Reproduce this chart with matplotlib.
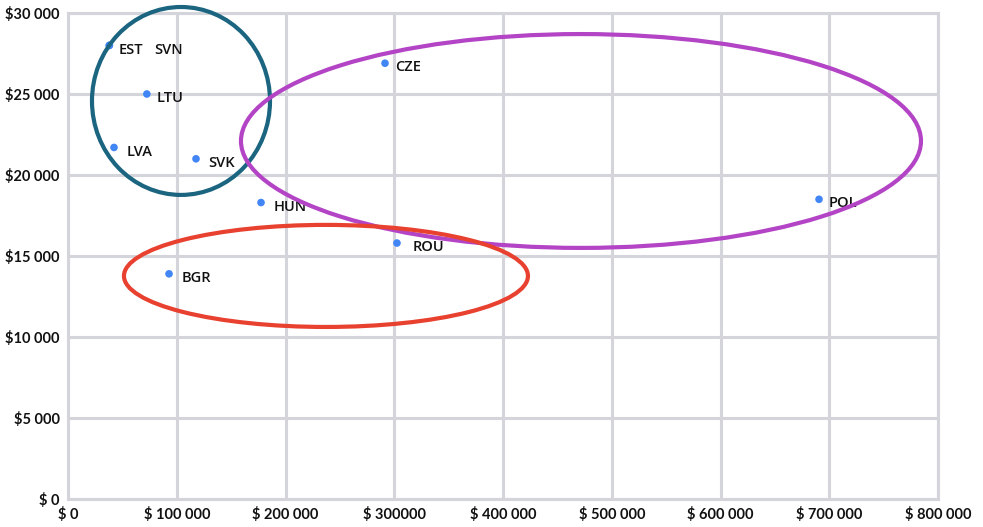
import matplotlib
matplotlib.use("Agg")
import matplotlib.pyplot as plt
from matplotlib.patches import Ellipse
from matplotlib.ticker import FixedLocator, FixedFormatter

# ---- data ----
countries = ["EST", "SVN", "LTU", "LVA", "SVK", "HUN", "ROU", "BGR", "CZE", "POL"]
gdp_total = [38000, 38000, 72500, 42300, 117700, 177500, 302500, 92900, 291500, 690600]
gdp_per_capita = [28000, 28000, 25000, 21700, 21000, 18300, 15800, 13900, 26900, 18500]
label_dx = [7, 32, 7, 9, 9, 9, 11, 9, 7, 7]   # label offsets in points

x_ticks = [0, 100000, 200000, 300000, 400000, 500000, 600000, 700000, 800000]
x_tick_labels = ["$ 0", "$ 100 000", "$ 200 000", "$ 300000", "$ 400 000",
                 "$ 500 000", "$ 600 000", "$ 700 000", "$ 800 000"]
y_ticks = [0, 5000, 10000, 15000, 20000, 25000, 30000]
y_tick_labels = ["$ 0", "$5 000", "$10 000", "$15 000", "$20 000", "$25 000", "$30 000"]

# group highlight ellipses: (center x, center y, width, height, colour)
groups = [
    (103900, 24570, 163700, 11600, "#1b6580"),
    (471700, 22100, 625300, 13200, "#b444c6"),
    (237200, 13770, 371500, 6300, "#e8412f"),
]

grid_col = "#d4d4db"

fig = plt.figure(figsize=(9.83, 5.27), dpi=100)
ax = fig.add_axes([68/983, 28/527, 870/983, 486/527])
ax.set_xlim(0, 800000)
ax.set_ylim(0, 30000)

ax.xaxis.set_major_locator(FixedLocator(x_ticks))
ax.xaxis.set_major_formatter(FixedFormatter(x_tick_labels))
ax.yaxis.set_major_locator(FixedLocator(y_ticks))
ax.yaxis.set_major_formatter(FixedFormatter(y_tick_labels))
ax.grid(True, color=grid_col, linewidth=2.2, zorder=0)
ax.set_axisbelow(True)
for s in ax.spines.values():
    s.set_color(grid_col)
    s.set_linewidth(2.2)
ax.tick_params(length=0, pad=6, labelsize=10.5, labelcolor="#111111")
for lab in ax.get_xticklabels() + ax.get_yticklabels():
    lab.set_fontfamily("Lato")
    lab.set_fontweight("bold")

ax.scatter(gdp_total, gdp_per_capita, s=30, color="#4285f4", zorder=3, edgecolors="none")
for c, x, y, dx in zip(countries, gdp_total, gdp_per_capita, label_dx):
    ax.annotate(c, (x, y), xytext=(dx, -3), textcoords="offset points",
                fontsize=10.5, fontfamily="Open Sans", fontweight="semibold",
                color="#111111", va="center", ha="left", zorder=4)

for cx, cy, w, h, col in groups:
    ax.add_patch(Ellipse((cx, cy), w, h, fill=False, edgecolor=col,
                         linewidth=3, zorder=5, clip_on=False))

fig.savefig("out.png", dpi=100)
